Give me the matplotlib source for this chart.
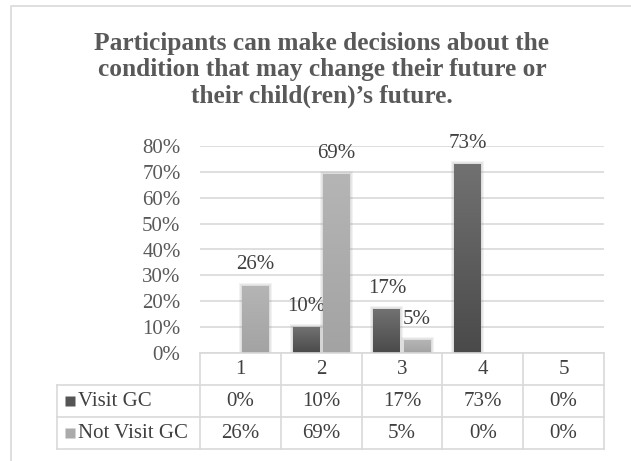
# Grouped bar chart of decision-making answers with an attached data table

import numpy as np
import matplotlib.pyplot as plt
from matplotlib.colors import LinearSegmentedColormap
from matplotlib.lines import Line2D
from matplotlib.patches import Rectangle

plt.rcParams["font.family"] = ["Liberation Serif", "DejaVu Serif"]

categories = ["1", "2", "3", "4", "5"]
visit_gc = [0, 10, 17, 73, 0]
not_visit_gc = [26, 69, 5, 0, 0]
series_names = ["Visit GC", "Not Visit GC"]
y_ticks = [0, 10, 20, 30, 40, 50, 60, 70, 80]
title = ("Participants can make decisions about the\n"
         "condition that may change their future or\n"
         "their child(ren)\u2019s future.")

W, H = 631, 461
TEXT = "#595959"
LABEL = "#404040"
GRID = "#d9d9d9"
FS = 15
dark_cmap = LinearSegmentedColormap.from_list("dark", ["#4a4a4a", "#717171"])
light_cmap = LinearSegmentedColormap.from_list("light", ["#a3a3a3", "#b5b5b5"])
series_colors = ["#555555", "#ababab"]


def fx(px):
    return px / W


def fy(py):
    return 1 - py / H


fig = plt.figure(figsize=(W / 100, H / 100), dpi=100)

# outer chart frame (runs past the right and bottom edges)
fig.add_artist(Line2D([fx(11), fx(11), 1.0], [0.0, fy(6), fy(6)],
                      transform=fig.transFigure, color=GRID, lw=1.2))

fig.text(fx(322), fy(70), title, ha="center", va="center", fontsize=18.3,
         fontweight="bold", color=TEXT, linespacing=1.2)

ax = fig.add_axes([fx(200), fy(353), fx(604) - fx(200), fy(146) - fy(353)])
ax.set_xlim(0.5, 5.5)
ax.set_ylim(0, 80)
ax.set_yticks(y_ticks)
ax.set_yticklabels([f"{t}%" for t in y_ticks])
ax.tick_params(axis="y", length=0, pad=14, labelsize=FS, labelcolor=TEXT)
ax.set_xticks([])
for s in ax.spines.values():
    s.set_visible(False)
ax.grid(axis="y", color=GRID, lw=1.2)
ax.set_axisbelow(True)

x = np.arange(1, len(categories) + 1)
bar_w = 0.333
offset = bar_w / 2 + 0.02
px_x = 5 / 404
px_y = 80 / 207
grad = np.linspace(0, 1, 64).reshape(-1, 1)

for values, sign, cmap in [(visit_gc, -1, dark_cmap), (not_visit_gc, 1, light_cmap)]:
    for xi, v in zip(x, values):
        if v == 0:
            continue
        x0 = xi + sign * offset - bar_w / 2
        # soft glow around the bar
        for k in (3, 2, 1):
            ax.add_patch(Rectangle((x0 - k * px_x, 0), bar_w + 2 * k * px_x, v + k * px_y,
                                   facecolor="#9a9a9a", edgecolor="none", alpha=0.12, zorder=2))
        rect = Rectangle((x0, 0), bar_w, v, facecolor="none", edgecolor="none", zorder=3)
        ax.add_patch(rect)
        im = ax.imshow(grad, extent=[x0, x0 + bar_w, 0, v], origin="lower",
                       aspect="auto", cmap=cmap, zorder=3)
        im.set_clip_path(rect)
        ax.annotate(f"{v}%", (xi + sign * offset, v), xytext=(0, 15),
                    textcoords="offset points", ha="center", va="center",
                    fontsize=FS, color=LABEL)

ax.set_xlim(0.5, 5.5)
ax.set_ylim(0, 80)

# data table under the plot, sharing the category columns
col_px = 404 / 5
left_units = 0.5 - (200 - 57) / col_px
tax = fig.add_axes([fx(57), fy(449), fx(604) - fx(57), fy(353) - fy(449)])
tax.set_xlim(left_units, 5.5)
tax.set_ylim(3, 0)
tax.axis("off")

for b in np.arange(0.5, 6.0, 1.0):
    tax.plot([b, b], [0, 3], color=GRID, lw=1.2, clip_on=False)
tax.plot([left_units, left_units], [1, 3], color=GRID, lw=1.2, clip_on=False)
tax.plot([0.5, 5.5], [0, 0], color=GRID, lw=1.2, clip_on=False)
for r in (1, 2, 3):
    tax.plot([left_units, 5.5], [r, r], color=GRID, lw=1.2, clip_on=False)

for xi, c in zip(x, categories):
    tax.text(xi, 0.5, c, ha="center", va="center", fontsize=FS, color=LABEL)

for row, (name, values, color) in enumerate(zip(series_names, [visit_gc, not_visit_gc],
                                                 series_colors), start=1):
    tax.plot([left_units + 13 / col_px], [row + 0.5], marker="s", ms=7,
             color=color, mec="none", clip_on=False)
    tax.text(left_units + 21 / col_px, row + 0.5, name, ha="left", va="center",
             fontsize=FS, color=LABEL)
    for xi, v in zip(x, values):
        tax.text(xi, row + 0.5, f"{v}%", ha="center", va="center",
                 fontsize=FS, color=LABEL)

fig.savefig("out.png", dpi=100)
